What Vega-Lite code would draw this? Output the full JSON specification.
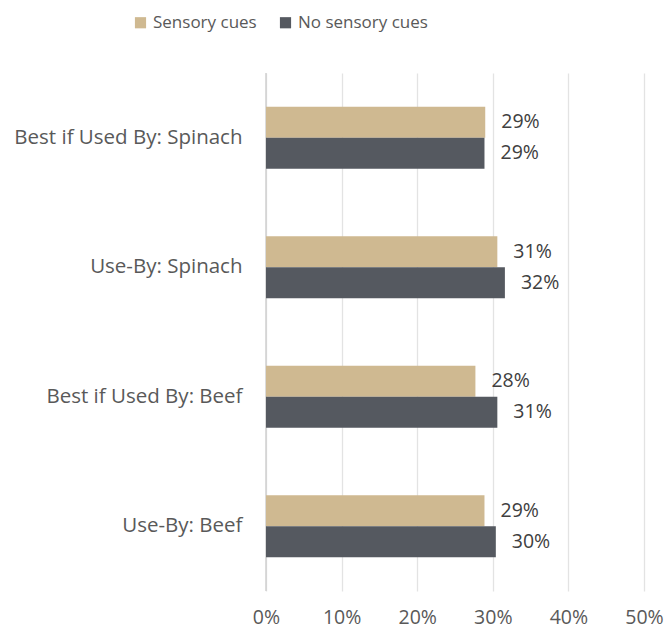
{
  "$schema": "https://vega.github.io/schema/vega-lite/v6.json",
  "width": 378,
  "height": 518,
  "autosize": {"type": "none"},
  "padding": {"left": 266, "top": 73, "right": 21, "bottom": 40},
  "background": "white",
  "config": {
    "view": {"stroke": null},
    "font": "Open Sans",
    "axis": {"labelFont": "Open Sans", "labelColor": "#595959"}
  },
  "data": {
    "values": [
      {"label": "Best if Used By: Spinach", "series": "Sensory cues", "value": 0.290, "text": "29%"},
      {"label": "Best if Used By: Spinach", "series": "No sensory cues", "value": 0.289, "text": "29%"},
      {"label": "Use-By: Spinach", "series": "Sensory cues", "value": 0.306, "text": "31%"},
      {"label": "Use-By: Spinach", "series": "No sensory cues", "value": 0.316, "text": "32%"},
      {"label": "Best if Used By: Beef", "series": "Sensory cues", "value": 0.277, "text": "28%"},
      {"label": "Best if Used By: Beef", "series": "No sensory cues", "value": 0.306, "text": "31%"},
      {"label": "Use-By: Beef", "series": "Sensory cues", "value": 0.289, "text": "29%"},
      {"label": "Use-By: Beef", "series": "No sensory cues", "value": 0.304, "text": "30%"}
    ]
  },
  "encoding": {
    "y": {
      "field": "label",
      "type": "nominal",
      "sort": ["Best if Used By: Spinach", "Use-By: Spinach", "Best if Used By: Beef", "Use-By: Beef"],
      "scale": {"paddingInner": 0.52, "paddingOuter": 0.26},
      "axis": {"title": null, "domain": false, "ticks": false, "labelFontSize": 20.5, "labelPadding": 24, "labelColor": "#595959", "labelLimit": 300}
    },
    "yOffset": {
      "field": "series",
      "type": "nominal",
      "sort": ["Sensory cues", "No sensory cues"],
      "scale": {"paddingInner": 0, "paddingOuter": 0}
    },
    "x": {
      "field": "value",
      "type": "quantitative",
      "scale": {"domain": [0, 0.5], "nice": false},
      "axis": {
        "title": null,
        "format": "0%",
        "values": [0, 0.1, 0.2, 0.3, 0.4, 0.5],
        "grid": true,
        "gridColor": "#E3E3E3",
        "gridWidth": 1.3,
        "domain": false,
        "ticks": false,
        "labelFlush": false,
        "labelFontSize": 19.5,
        "labelPadding": 17,
        "labelColor": "#595959"
      }
    }
  },
  "layer": [
    {
      "mark": {"type": "rule", "color": "#D0D0D0", "strokeWidth": 1.5},
      "data": {"values": [{"z": 0}]},
      "encoding": {"x": {"field": "z", "type": "quantitative"}, "y": null, "yOffset": null}
    },
    {
      "mark": {"type": "bar"},
      "encoding": {
        "color": {
          "field": "series",
          "type": "nominal",
          "sort": ["Sensory cues", "No sensory cues"],
          "scale": {"domain": ["Sensory cues", "No sensory cues"], "range": ["#CFB991", "#555960"]},
          "legend": {
            "title": null,
            "orient": "none",
            "direction": "horizontal",
            "legendX": -134,
            "legendY": -59,
            "symbolType": "square",
            "symbolSize": 125,
            "symbolStrokeWidth": 0,
            "symbolOpacity": 1,
            "labelFontSize": 17,
            "labelColor": "#595959",
            "labelOffset": 4,
            "columnPadding": 20
          }
        }
      }
    },
    {
      "mark": {"type": "text", "align": "left", "baseline": "middle", "dx": 16, "fontSize": 19.5, "color": "#404040"},
      "encoding": {"text": {"field": "text"}}
    }
  ]
}
